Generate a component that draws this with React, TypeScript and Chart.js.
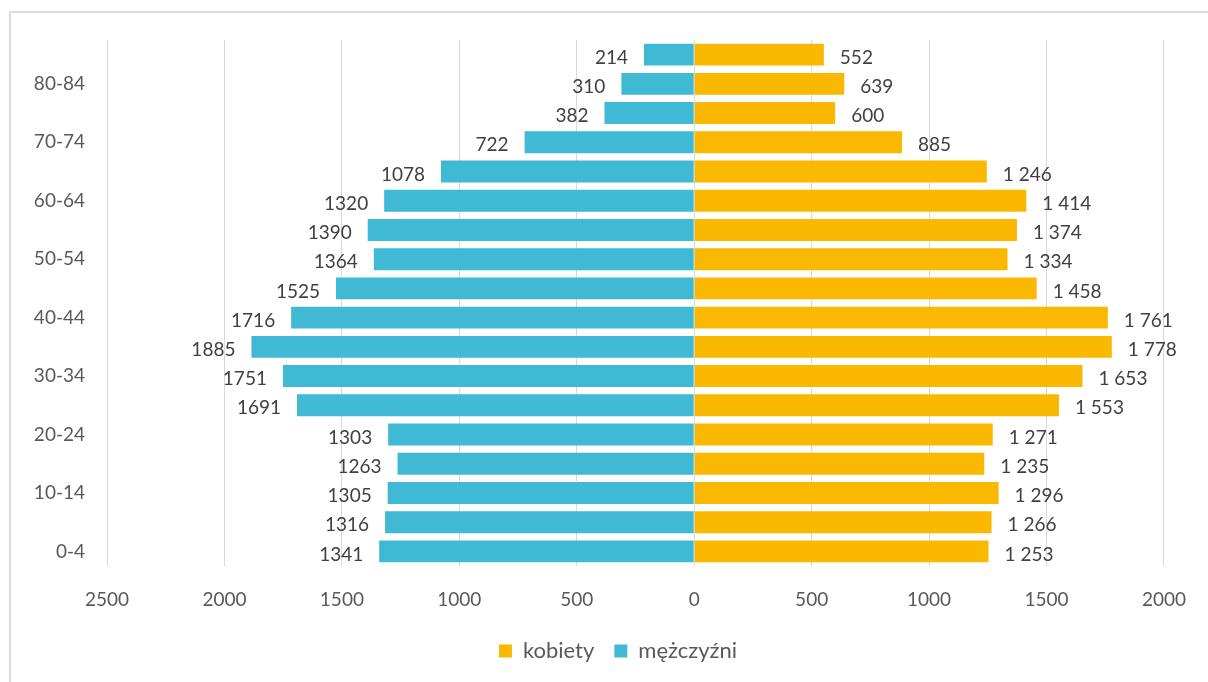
import { useEffect, useRef } from "react"
import { Chart, registerables } from "chart.js"

Chart.register(...registerables)

// age groups, top to bottom
const ageGroups = [
  "85+", "80-84", "75-79", "70-74", "65-69", "60-64", "55-59", "50-54", "45-49",
  "40-44", "35-39", "30-34", "25-29", "20-24", "15-19", "10-14", "5-9", "0-4",
]
const women = [552, 639, 600, 885, 1246, 1414, 1374, 1334, 1458, 1761, 1778, 1653, 1553, 1271, 1235, 1296, 1266, 1253]
const men = [214, 310, 382, 722, 1078, 1320, 1390, 1364, 1525, 1716, 1885, 1751, 1691, 1303, 1263, 1305, 1316, 1341]
const xTicks = { min: -2500, max: 2000, step: 500 }

const FONT = "Lato, 'Open Sans', sans-serif"
const ORANGE = "#FBB800"
const TEAL = "#40B9D4"
const TEXT = "#595959"

const spaced = (v: number) =>
  v >= 1000 ? `${Math.floor(v / 1000)} ${String(v % 1000).padStart(3, "0")}` : String(v)

const barLabels = {
  id: "barLabels",
  // centre the legend under the plot instead of under the whole canvas
  afterLayout(chart: any) {
    const lg = chart.legend
    if (lg) {
      lg.left += 36
      lg.right += 36
    }
  },
  afterDatasetsDraw(chart: Chart) {
    const ctx = chart.ctx
    ctx.save()
    ctx.font = `19px ${FONT}`
    ctx.fillStyle = "#404040"
    ctx.textBaseline = "middle"
    chart.data.datasets.forEach((ds, di) => {
      const meta = chart.getDatasetMeta(di)
      meta.data.forEach((bar: any, i) => {
        if (di === 0) {
          ctx.textAlign = "left"
          ctx.fillText(spaced(women[i]), bar.x + 16, bar.y + 3)
        } else {
          ctx.textAlign = "right"
          ctx.fillText(String(men[i]), bar.x - 16, bar.y + 3)
        }
      })
    })
    ctx.restore()
  },
}

export default function App() {
  const canvasRef = useRef<HTMLCanvasElement>(null)
  const chartRef = useRef<Chart | null>(null)

  useEffect(() => {
    document.body.style.overflow = "hidden"
    if (!canvasRef.current) return
    if (chartRef.current) chartRef.current.destroy()
    const ctx = canvasRef.current.getContext("2d")
    if (!ctx) return
    chartRef.current = new Chart(ctx, {
      type: "bar",
      data: {
        labels: ageGroups,
        datasets: [
          {
            label: "kobiety",
            data: women,
            backgroundColor: ORANGE,
            barPercentage: 0.75,
            categoryPercentage: 1,
          },
          {
            label: "mężczyźni",
            data: men.map((v) => -v),
            backgroundColor: TEAL,
            barPercentage: 0.75,
            categoryPercentage: 1,
          },
        ],
      },
      options: {
        indexAxis: "y",
        animation: false,
        responsive: true,
        maintainAspectRatio: false,
        layout: { padding: { left: 0, top: 40, right: 44, bottom: 10 } },
        plugins: {
          tooltip: { enabled: false },
          legend: {
            position: "bottom",
            labels: {
              boxWidth: 13,
              boxHeight: 13,
              padding: 20,
              color: TEXT,
              font: { family: FONT, size: 22 },
            },
          },
        },
        scales: {
          x: {
            stacked: true,
            min: xTicks.min,
            max: xTicks.max,
            border: { display: false },
            grid: { color: "#d9d9d9", drawTicks: false },
            ticks: {
              stepSize: xTicks.step,
              padding: 22,
              color: TEXT,
              font: { family: FONT, size: 19 },
              callback: (v) => String(Math.abs(Number(v))),
            },
            afterFit: (scale: any) => {
              scale.height = 54
            },
          },
          y: {
            stacked: true,
            border: { display: false },
            grid: { display: false, drawTicks: false },
            ticks: {
              autoSkip: false,
              padding: 22,
              color: TEXT,
              font: { family: FONT, size: 19 },
              callback: function (this: any, v: any, i: number) {
                return i % 2 === 1 ? this.getLabelForValue(v) : ""
              },
            },
            afterFit: (scale: any) => {
              scale.width = 107
            },
          },
        },
      },
      plugins: [barLabels],
    })
    return () => {
      if (chartRef.current) chartRef.current.destroy()
      chartRef.current = null
    }
  }, [])

  return (
    <>
      <div
        style={{
          position: "fixed",
          left: 9,
          top: 11,
          width: 1300,
          height: 800,
          border: "2px solid #dcdcdc",
          boxSizing: "border-box",
        }}
      />
      <div style={{ position: "fixed", left: 0, top: 0, width: 1208, height: 682 }}>
        <canvas ref={canvasRef}></canvas>
      </div>
    </>
  )
}
